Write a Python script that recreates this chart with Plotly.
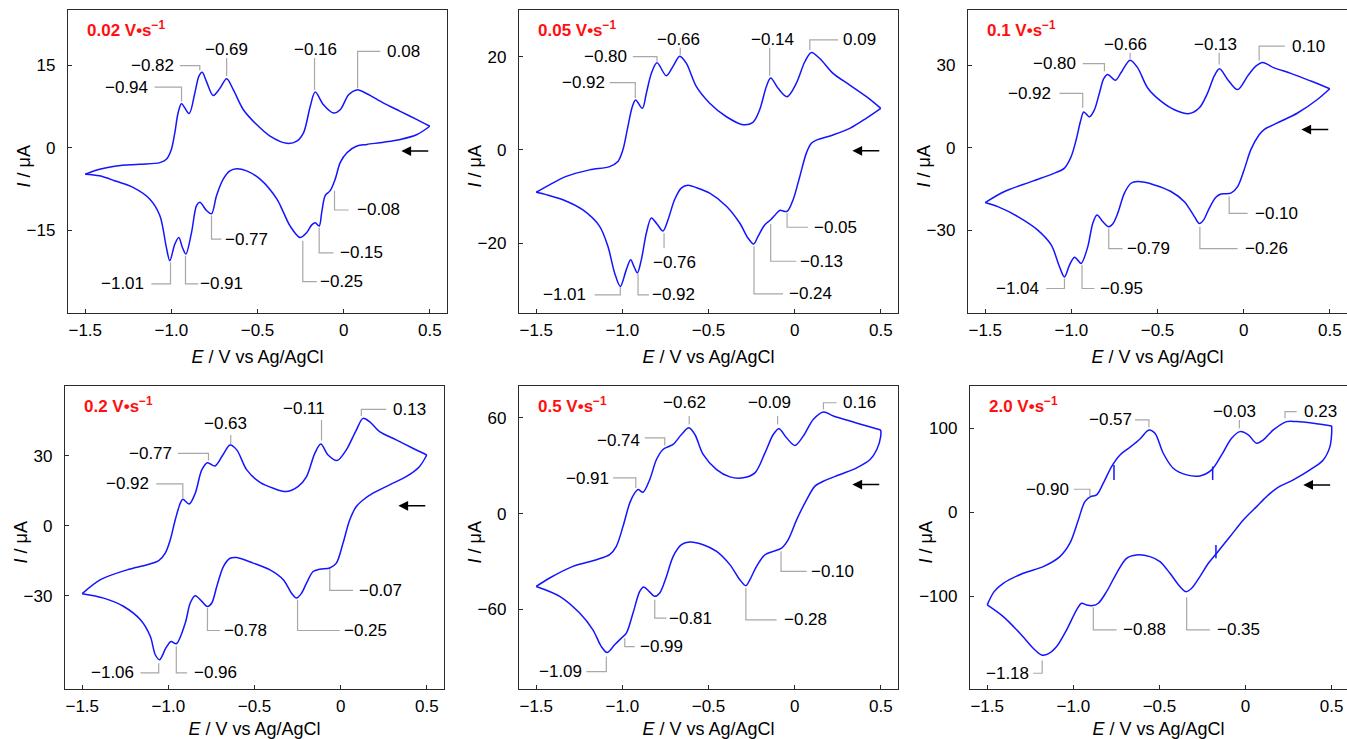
import plotly.graph_objects as go

# ---------------- DATA ----------------
scan_rates = ["0.02", "0.05", "0.1", "0.2", "0.5", "2.0"]

# Panel 1 : 0.02 V/s
p1_anod_E = [-1.5, -1.417, -1.32, -1.184, -1.067, -1.029, -1.0, -0.98, -0.961, -0.941, -0.897, -0.864, -0.84, -0.821, -0.796, -0.757, -0.718, -0.679, -0.64, -0.582, -0.505, -0.427, -0.33, -0.272, -0.233, -0.194, -0.165, -0.117, -0.059, -0.02, 0.029, 0.077, 0.135, 0.232, 0.329, 0.426, 0.5]
p1_anod_I = [-4.8, -3.9, -3.3, -3.0, -2.7, -2.1, -0.3, 2.7, 6.3, 8.0, 6.2, 9.9, 13.0, 13.7, 12.0, 9.5, 10.8, 12.5, 10.5, 6.9, 4.2, 2.1, 0.8, 1.2, 2.7, 7.5, 10.1, 7.8, 6.3, 6.9, 9.6, 10.5, 9.8, 8.1, 6.6, 5.1, 3.9]
p1_cath_E = [0.5, 0.426, 0.329, 0.232, 0.135, 0.077, 0.019, -0.02, -0.049, -0.078, -0.107, -0.127, -0.142, -0.165, -0.185, -0.214, -0.253, -0.311, -0.35, -0.388, -0.485, -0.563, -0.621, -0.66, -0.699, -0.738, -0.767, -0.796, -0.835, -0.854, -0.883, -0.916, -0.936, -0.957, -0.98, -1.009, -1.029, -1.067, -1.126, -1.223, -1.32, -1.417, -1.5]
p1_cath_I = [3.9, 2.4, 1.5, 1.0, 0.6, 0.3, -0.9, -2.7, -5.7, -7.8, -8.7, -11.7, -14.2, -13.6, -14.0, -15.4, -16.3, -14.2, -11.7, -9.3, -5.7, -4.2, -3.8, -4.2, -5.7, -8.7, -12.0, -11.4, -9.9, -10.5, -15.4, -19.3, -18.1, -16.3, -17.5, -20.5, -18.1, -12.3, -9.3, -7.2, -6.1, -5.1, -4.8]

# Panel 2 : 0.05 V/s
p2_anod_E = [-1.5, -1.423, -1.326, -1.19, -1.074, -1.026, -0.997, -0.968, -0.942, -0.923, -0.884, -0.861, -0.832, -0.799, -0.745, -0.706, -0.667, -0.629, -0.571, -0.493, -0.396, -0.3, -0.242, -0.203, -0.164, -0.139, -0.096, -0.044, 0.01, 0.059, 0.097, 0.146, 0.223, 0.32, 0.417, 0.5]
p2_anod_I = [-9.1, -7.5, -5.7, -4.3, -3.6, -2.5, 0.0, 5.0, 9.3, 10.7, 8.9, 12.1, 16.4, 18.7, 15.9, 17.9, 20.1, 18.6, 13.6, 10.0, 7.1, 5.4, 5.9, 8.6, 13.6, 15.4, 13.2, 11.4, 14.3, 18.9, 20.9, 19.6, 16.4, 13.9, 11.4, 8.9]
p2_cath_E = [0.5, 0.417, 0.32, 0.223, 0.126, 0.097, 0.068, 0.03, -0.009, -0.044, -0.087, -0.116, -0.139, -0.174, -0.213, -0.238, -0.271, -0.319, -0.396, -0.493, -0.571, -0.619, -0.658, -0.697, -0.735, -0.764, -0.799, -0.832, -0.861, -0.89, -0.913, -0.933, -0.952, -0.977, -1.012, -1.045, -1.084, -1.132, -1.229, -1.345, -1.442, -1.5]
p2_cath_I = [8.9, 6.8, 4.6, 3.2, 2.1, 1.4, -0.7, -5.7, -10.7, -13.2, -13.0, -14.1, -15.0, -16.1, -18.6, -20.2, -18.9, -15.7, -12.1, -9.3, -8.1, -7.6, -8.2, -10.7, -15.0, -17.4, -15.9, -14.6, -17.9, -23.6, -26.4, -25.0, -23.6, -25.7, -29.3, -26.4, -20.7, -16.4, -12.9, -10.7, -9.6, -9.1]

# Panel 3 : 0.1 V/s
p3_anod_E = [-1.5, -1.388, -1.233, -1.098, -1.04, -1.001, -0.972, -0.947, -0.928, -0.895, -0.866, -0.837, -0.812, -0.789, -0.744, -0.712, -0.659, -0.615, -0.557, -0.48, -0.402, -0.315, -0.257, -0.209, -0.171, -0.14, -0.093, -0.035, 0.023, 0.071, 0.11, 0.177, 0.274, 0.39, 0.5]
p3_anod_I = [-19.9, -15.9, -12.3, -9.2, -7.4, -3.2, 2.9, 9.6, 13.0, 11.2, 13.8, 19.9, 25.1, 26.6, 24.5, 27.2, 31.8, 29.0, 21.7, 16.9, 13.8, 12.4, 14.5, 19.9, 26.0, 28.7, 24.8, 21.1, 26.0, 29.6, 30.9, 29.0, 27.0, 24.2, 21.4]
p3_cath_E = [0.5, 0.428, 0.313, 0.216, 0.119, 0.09, 0.042, 0.003, -0.035, -0.074, -0.132, -0.161, -0.2, -0.232, -0.257, -0.286, -0.344, -0.422, -0.518, -0.615, -0.654, -0.692, -0.731, -0.76, -0.783, -0.818, -0.851, -0.876, -0.905, -0.943, -0.963, -0.982, -1.011, -1.04, -1.069, -1.117, -1.195, -1.311, -1.427, -1.5]
p3_cath_I = [21.4, 17.5, 12.6, 9.6, 6.6, 4.7, -0.7, -8.0, -14.1, -16.5, -16.8, -18.0, -22.0, -26.2, -27.5, -25.0, -19.6, -15.9, -13.5, -12.3, -12.9, -16.5, -23.8, -27.7, -28.7, -26.8, -24.4, -27.5, -36.0, -42.0, -40.8, -39.8, -42.6, -46.9, -43.2, -35.3, -29.9, -25.0, -21.4, -19.9]

# Panel 4 : 0.2 V/s
p4_anod_E = [-1.5, -1.394, -1.24, -1.124, -1.056, -1.018, -0.989, -0.96, -0.931, -0.916, -0.879, -0.844, -0.806, -0.773, -0.729, -0.684, -0.642, -0.603, -0.545, -0.468, -0.391, -0.314, -0.246, -0.198, -0.15, -0.115, -0.073, -0.021, 0.033, 0.091, 0.13, 0.168, 0.226, 0.323, 0.419, 0.5]
p4_anod_I = [-29.1, -23.1, -18.9, -16.7, -14.9, -11.7, -6.0, 2.6, 9.7, 11.4, 9.4, 14.0, 24.0, 27.1, 25.7, 30.4, 34.7, 32.6, 24.0, 18.6, 16.1, 14.7, 16.9, 21.1, 31.1, 35.1, 30.4, 28.0, 32.6, 41.1, 46.1, 44.7, 40.4, 36.9, 33.3, 30.4]
p4_cath_E = [0.5, 0.457, 0.38, 0.284, 0.188, 0.13, 0.091, 0.053, 0.014, -0.025, -0.063, -0.121, -0.16, -0.198, -0.227, -0.256, -0.285, -0.333, -0.41, -0.507, -0.603, -0.642, -0.68, -0.719, -0.748, -0.773, -0.806, -0.844, -0.873, -0.902, -0.954, -0.985, -1.015, -1.051, -1.076, -1.105, -1.162, -1.259, -1.375, -1.5]
p4_cath_I = [30.4, 25.4, 21.1, 17.6, 14.0, 11.1, 8.3, 2.6, -7.4, -16.0, -18.1, -18.6, -19.6, -24.6, -28.9, -31.0, -28.9, -23.1, -18.9, -16.0, -13.6, -13.9, -17.4, -26.0, -33.1, -34.6, -32.4, -30.0, -33.1, -41.7, -50.6, -49.6, -52.5, -57.4, -55.3, -47.4, -40.3, -34.6, -31.0, -29.1]

# Panel 5 : 0.5 V/s
p5_anod_E = [-1.5, -1.422, -1.287, -1.151, -1.074, -1.035, -0.996, -0.957, -0.928, -0.909, -0.88, -0.841, -0.802, -0.764, -0.734, -0.705, -0.657, -0.614, -0.579, -0.531, -0.453, -0.376, -0.298, -0.231, -0.172, -0.124, -0.091, -0.047, 0.002, 0.05, 0.109, 0.167, 0.225, 0.322, 0.419, 0.5]
p5_anod_I = [-45.7, -40.4, -33.1, -28.9, -25.8, -20.5, -8.0, 6.7, 13.0, 15.1, 13.4, 21.4, 33.9, 40.2, 41.9, 43.4, 49.6, 53.8, 49.6, 37.1, 27.6, 23.0, 22.4, 25.5, 38.1, 49.6, 53.2, 47.5, 42.7, 48.6, 59.1, 63.7, 61.2, 58.0, 54.9, 52.4]
p5_cath_E = [0.5, 0.5, 0.477, 0.438, 0.36, 0.264, 0.167, 0.118, 0.07, 0.012, -0.037, -0.076, -0.124, -0.172, -0.221, -0.26, -0.283, -0.318, -0.376, -0.453, -0.531, -0.609, -0.657, -0.705, -0.744, -0.783, -0.812, -0.845, -0.876, -0.899, -0.938, -0.977, -1.006, -1.045, -1.089, -1.122, -1.171, -1.248, -1.364, -1.5]
p5_cath_I = [52.4, 48.6, 40.2, 33.9, 28.7, 24.5, 20.3, 17.2, 8.8, -3.8, -16.3, -21.6, -23.7, -25.8, -33.1, -41.5, -45.2, -41.5, -32.0, -23.7, -19.5, -17.8, -19.5, -26.8, -39.4, -49.8, -51.9, -48.8, -46.1, -48.8, -62.4, -75.0, -78.1, -82.3, -87.1, -83.4, -72.9, -62.4, -51.9, -45.7]

# Panel 6 : 2.0 V/s
p6_anod_E = [-1.5, -1.46, -1.407, -1.291, -1.175, -1.078, -1.02, -0.971, -0.933, -0.9, -0.865, -0.826, -0.778, -0.729, -0.671, -0.613, -0.561, -0.526, -0.478, -0.42, -0.342, -0.265, -0.197, -0.139, -0.081, -0.032, 0.016, 0.064, 0.103, 0.161, 0.239, 0.297, 0.394, 0.5]
p6_anod_I = [-110.1, -94.3, -84.4, -72.5, -64.6, -52.7, -36.8, -9.1, 12.7, 18.6, 20.6, 34.5, 54.3, 68.1, 77.2, 87.1, 97.8, 93.9, 70.1, 52.3, 44.4, 43.2, 50.3, 68.1, 87.9, 95.8, 91.9, 82.0, 85.9, 97.8, 107.7, 107.7, 105.7, 102.6]
p6_cath_E = [0.5, 0.5, 0.49, 0.451, 0.374, 0.277, 0.18, 0.122, 0.064, -0.013, -0.09, -0.168, -0.216, -0.265, -0.313, -0.346, -0.381, -0.439, -0.497, -0.555, -0.633, -0.691, -0.749, -0.807, -0.855, -0.888, -0.923, -0.952, -0.981, -1.039, -1.097, -1.146, -1.184, -1.233, -1.31, -1.407, -1.5]
p6_cath_I = [102.6, 93.9, 78.0, 62.2, 50.3, 38.4, 28.5, 18.6, 6.7, -9.1, -28.9, -48.7, -60.6, -76.4, -90.3, -94.3, -88.3, -72.5, -58.6, -52.7, -50.7, -54.7, -72.5, -94.3, -108.1, -110.9, -110.1, -108.1, -116.0, -139.8, -159.6, -168.3, -169.5, -161.6, -143.8, -124.0, -110.1]
# small spike artefacts in the 2.0 V/s trace
p6_spike_E = [-0.764, -0.191, -0.172]
p6_spike_I_hi = [56.2, 54.3, -38.8]
p6_spike_I_lo = [38.4, 38.4, -54.7]

x_tickvals = [-1.5, -1.0, -0.5, 0, 0.5]
x_ticktext = ["−1.5", "−1.0", "−0.5", "0", "0.5"]
y_tickvals = [[-15, 0, 15], [-20, 0, 20], [-30, 0, 30], [-30, 0, 30], [-60, 0, 60], [-100, 0, 100]]

# peak labels: (text, E of leader, I start, I knee, E end of horizontal, E text, I text, anchor)
peak_labels = [
    [("−0.94", -0.941, 8.4, 11.0, -1.097, -1.124, 11.0, "right"),
     ("−0.82", -0.835, 14.0, 14.9, -0.951, -0.975, 14.9, "right"),
     ("−0.69", -0.679, 13.0, 16.3, -0.679, -0.679, 17.8, "center"),
     ("−0.16", -0.169, 10.5, 16.3, -0.169, -0.165, 17.8, "center"),
     ("0.08", 0.081, 10.8, 17.5, 0.213, 0.24, 17.5, "left"),
     ("−0.08", -0.053, -7.8, -11.3, 0.029, 0.065, -11.3, "left"),
     ("−0.15", -0.142, -14.5, -19.1, -0.059, -0.03, -19.1, "left"),
     ("−0.25", -0.237, -16.9, -24.3, -0.156, -0.15, -24.3, "left"),
     ("−0.77", -0.767, -12.3, -16.6, -0.709, -0.70, -16.6, "left"),
     ("−0.91", -0.918, -19.6, -24.7, -0.844, -0.845, -24.7, "left"),
     ("−1.01", -1.005, -20.8, -24.7, -1.116, -1.15, -24.7, "right")],
    [("−0.92", -0.925, 11.1, 14.4, -1.074, -1.09, 14.4, "right"),
     ("−0.80", -0.799, 18.9, 20.0, -0.939, -0.96, 20.0, "right"),
     ("−0.66", -0.664, 20.4, 21.9, -0.664, -0.677, 23.6, "center"),
     ("−0.14", -0.145, 15.9, 21.9, -0.145, -0.129, 23.6, "center"),
     ("0.09", 0.088, 21.4, 23.6, 0.252, 0.27, 23.6, "left"),
     ("−0.05", -0.044, -13.6, -16.6, 0.078, 0.1, -16.6, "left"),
     ("−0.13", -0.139, -15.9, -23.9, 0.01, 0.02, -23.9, "left"),
     ("−0.24", -0.236, -20.7, -30.9, -0.067, -0.045, -30.9, "left"),
     ("−0.76", -0.758, -17.9, -21.1, -0.758, -0.697, -24.1, "center"),
     ("−0.92", -0.909, -26.6, -31.1, -0.846, -0.84, -31.1, "left"),
     ("−1.01", -1.012, -29.4, -31.1, -1.161, -1.2, -31.1, "right")],
    [("−0.92", -0.934, 14.5, 19.7, -1.069, -1.105, 19.7, "right"),
     ("−0.80", -0.808, 27.8, 30.5, -0.934, -0.962, 30.5, "right"),
     ("−0.66", -0.659, 32.3, 34.5, -0.659, -0.686, 37.4, "center"),
     ("−0.13", -0.142, 30.2, 34.5, -0.142, -0.161, 37.4, "center"),
     ("0.10", 0.09, 31.7, 36.9, 0.239, 0.27, 36.9, "left"),
     ("−0.10", -0.084, -17.7, -23.8, 0.023, 0.053, -23.8, "left"),
     ("−0.26", -0.254, -28.7, -36.6, -0.035, -0.005, -36.6, "left"),
     ("−0.79", -0.783, -29.3, -36.6, -0.702, -0.69, -36.6, "left"),
     ("−0.95", -0.938, -42.6, -51.1, -0.866, -0.845, -51.1, "left"),
     ("−1.04", -1.04, -47.5, -51.1, -1.146, -1.175, -51.1, "right")],
    [("−0.92", -0.916, 11.9, 18.0, -1.07, -1.10, 18.0, "right"),
     ("−0.77", -0.767, 28.0, 31.1, -0.945, -0.965, 31.1, "right"),
     ("−0.63", -0.638, 35.1, 39.0, -0.638, -0.671, 43.8, "center"),
     ("−0.11", -0.111, 36.6, 45.4, -0.111, -0.214, 50.2, "center"),
     ("0.13", 0.12, 47.1, 50.0, 0.265, 0.295, 50.0, "left"),
     ("−0.07", -0.063, -18.6, -27.7, 0.072, 0.093, -27.7, "left"),
     ("−0.25", -0.25, -31.7, -44.9, -0.005, 0.006, -44.9, "left"),
     ("−0.78", -0.773, -35.3, -44.9, -0.70, -0.688, -44.9, "left"),
     ("−0.96", -0.954, -51.7, -63.1, -0.892, -0.862, -63.1, "left"),
     ("−1.06", -1.056, -58.9, -63.1, -1.162, -1.19, -63.1, "right")],
    [("−0.91", -0.922, 16.1, 22.4, -1.054, -1.066, 22.0, "right"),
     ("−0.74", -0.754, 42.7, 47.5, -0.87, -0.885, 45.8, "right"),
     ("−0.62", -0.612, 55.9, 61.2, -0.612, -0.641, 69.8, "center"),
     ("−0.09", -0.099, 55.9, 61.2, -0.099, -0.147, 69.8, "center"),
     ("0.16", 0.167, 65.3, 69.5, 0.244, 0.27, 69.5, "left"),
     ("−0.10", -0.079, -23.7, -36.2, 0.07, 0.082, -36.2, "left"),
     ("−0.28", -0.283, -46.7, -66.6, -0.105, -0.074, -66.6, "left"),
     ("−0.81", -0.812, -54.0, -65.5, -0.744, -0.742, -65.5, "left"),
     ("−0.99", -0.986, -78.1, -83.4, -0.928, -0.91, -83.4, "left"),
     ("−1.09", -1.093, -89.6, -99.1, -1.209, -1.22, -99.1, "right")],
    [("−0.90", -0.904, 19.4, 27.3, -0.997, -1.016, 27.3, "right"),
     ("−0.57", -0.561, 101.0, 109.7, -0.642, -0.645, 109.7, "right"),
     ("−0.03", -0.036, 99.8, 109.7, -0.036, -0.067, 120.0, "center"),
     ("0.23", 0.229, 111.7, 119.6, 0.297, 0.327, 119.6, "left"),
     ("−0.88", -0.884, -112.9, -139.8, -0.749, -0.722, -139.8, "left"),
     ("−0.35", -0.342, -101.0, -139.8, -0.207, -0.18, -139.8, "left"),
     ("−1.18", -1.181, -176.2, -191.3, -1.233, -1.244, -191.3, "right")],
]

# scan-direction arrow level (µA) in each panel
arrow_I = [-0.6, -0.2, 6.6, 8.6, 18.2, 32.5]

# ---------------- LAYOUT GEOMETRY ----------------
W, H = 1347, 739
panel_px = [  # (left, right, top, bottom) in pixels
    (68, 447, 10, 313), (519, 898, 10, 313), (968, 1347, 10, 313),
    (65, 444, 386, 689), (519, 898, 386, 689), (970, 1347, 386, 689),
]
x_ranges = [[-1.6, 0.6]] * 5 + [[-1.6, 0.589]]
y_ranges = [[-30, 25], [-35, 30], [-60, 50], [-70, 60], [-110, 80], [-210, 150]]
x_title_standoff = [11, 11, 11, 10, 10, 10]
right_border = [True, True, True, True, True, False]

curves = [
    (p1_anod_E, p1_anod_I, p1_cath_E, p1_cath_I),
    (p2_anod_E, p2_anod_I, p2_cath_E, p2_cath_I),
    (p3_anod_E, p3_anod_I, p3_cath_E, p3_cath_I),
    (p4_anod_E, p4_anod_I, p4_cath_E, p4_cath_I),
    (p5_anod_E, p5_anod_I, p5_cath_E, p5_cath_I),
    (p6_anod_E, p6_anod_I, p6_cath_E, p6_cath_I),
]

FONT = "Liberation Sans, Arial, Helvetica, sans-serif"
BLUE = "#1414ff"
AXC = "#2b2b2b"
LEAD = "#a8a8a8"

fig = go.Figure()
layout = dict(
    width=W, height=H, margin=dict(l=0, r=0, t=0, b=0),
    paper_bgcolor="white", plot_bgcolor="white", showlegend=False,
    font=dict(family=FONT, size=17, color="black"),
)
annotations = []
shapes = []

for k in range(6):
    s = "" if k == 0 else str(k + 1)
    xa, ya = "x" + s, "y" + s
    l, r, t, b = panel_px[k]
    layout["xaxis" + s] = dict(
        domain=[l / W, r / W], range=x_ranges[k], anchor=ya,
        showline=True, mirror=True, linecolor=AXC, linewidth=1.3,
        ticks="inside", ticklen=4, tickwidth=1.3, tickcolor=AXC,
        tickvals=x_tickvals, ticktext=x_ticktext,
        showgrid=False, zeroline=False, ticklabelstandoff=1,
        tickfont=dict(family=FONT, size=17, color="black"),
        title=dict(text="<i>E</i> / V vs Ag/AgCl", standoff=x_title_standoff[k],
                   font=dict(family=FONT, size=18, color="black")),
    )
    layout["yaxis" + s] = dict(
        domain=[1 - b / H, 1 - t / H], range=y_ranges[k], anchor=xa,
        showline=True, mirror=right_border[k], linecolor=AXC, linewidth=1.3,
        ticks="inside", ticklen=4, tickwidth=1.3, tickcolor=AXC,
        tickvals=y_tickvals[k], ticktext=[str(v).replace("-", "−") for v in y_tickvals[k]],
        showgrid=False, zeroline=False, ticklabelstandoff=8,
        tickfont=dict(family=FONT, size=17, color="black"),
    )

    aE, aI, cE, cI = curves[k]
    for ex, iy in ((cE, cI), (aE, aI)):
        fig.add_trace(go.Scatter(
            x=ex, y=iy, mode="lines", xaxis=xa, yaxis=ya, hoverinfo="skip",
            line=dict(color=BLUE, width=1.5, shape="spline", smoothing=0.9),
        ))

    # peak labels with leader lines
    for (txt, e0, i0, ik, e1, et, it, anc) in peak_labels[k]:
        shapes.append(dict(
            type="path", xref=xa, yref=ya,
            path=f"M {e0},{i0} L {e0},{ik} L {e1},{ik}",
            line=dict(color=LEAD, width=1.2),
        ))
        annotations.append(dict(
            text=txt, x=et, y=it, xref=xa, yref=ya, showarrow=False,
            xanchor=anc, yanchor="middle",
            font=dict(family=FONT, size=17, color="black"),
        ))

    # scan direction arrow
    annotations.append(dict(
        text="", x=0.335, y=arrow_I[k], ax=0.5, ay=arrow_I[k],
        xref=xa, yref=ya, axref=xa, ayref=ya, showarrow=True,
        arrowhead=2, arrowsize=1.3, arrowwidth=1.5, arrowcolor="black", standoff=0,
    ))

    # panel title (scan rate)
    annotations.append(dict(
        text=f"<b>{scan_rates[k]} V•s<sup>−1</sup></b>",
        x=0.044, y=0.938, xref=xa + " domain", yref=ya + " domain",
        xanchor="left", yanchor="middle", showarrow=False,
        font=dict(family=FONT, size=17, color="#ff1010"),
    ))
    # y-axis title
    annotations.append(dict(
        text="<i>I</i> / μA", x=0, y=0.5, xref=xa + " domain", yref=ya + " domain",
        xanchor="center", yanchor="middle", xshift=-45, yshift=-5, textangle=-90,
        showarrow=False, font=dict(family=FONT, size=18, color="black"),
    ))

# spike artefacts in the 2.0 V/s trace
sx, sy = [], []
for e, hi, lo in zip(p6_spike_E, p6_spike_I_hi, p6_spike_I_lo):
    sx += [e, e, None]
    sy += [hi, lo, None]
fig.add_trace(go.Scatter(x=sx, y=sy, mode="lines", xaxis="x6", yaxis="y6",
                         hoverinfo="skip", line=dict(color=BLUE, width=1.5)))

layout["annotations"] = annotations
layout["shapes"] = shapes
fig.update_layout(**layout)
fig.write_html(
    "out.html",
    config={"displayModeBar": False},
    post_script="document.body.style.margin='0px';document.body.style.overflow='hidden';",
)
